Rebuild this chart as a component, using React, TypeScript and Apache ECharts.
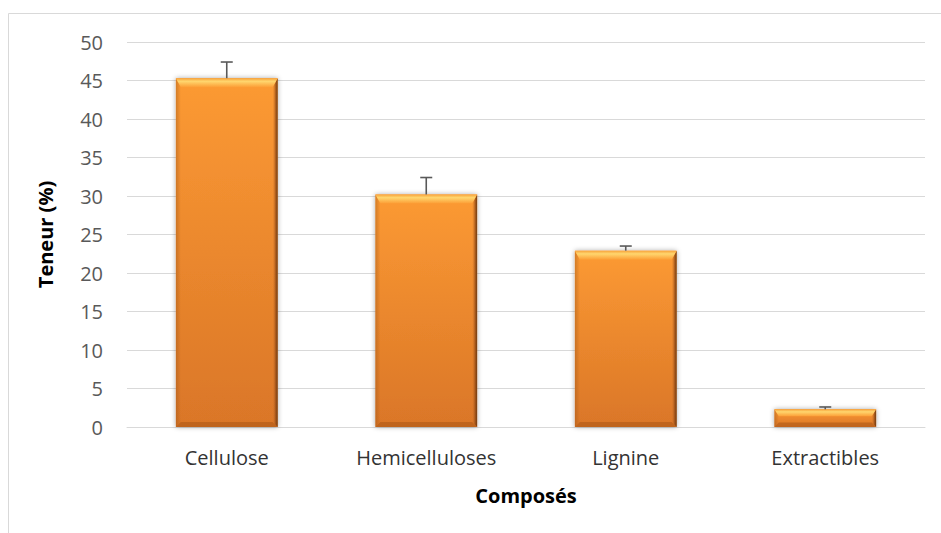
import React, { useEffect, useRef } from "react";
import * as echarts from "echarts";

const categories = ["Cellulose", "Hemicelluloses", "Lignine", "Extractibles"];
const values = [45.3, 30.2, 22.9, 2.3];
const errors = [2.1, 2.2, 0.6, 0.3];
const yMin = 0;
const yMax = 50;
const yStep = 5;
const xTitle = "Composés";
const yTitle = "Teneur (%)";

const FONT = "'Open Sans', sans-serif";

export default function App() {
  const ref = useRef<HTMLDivElement>(null);
  useEffect(() => {
    const chart = echarts.init(ref.current!, null, { renderer: "svg" });
    const LG = echarts.graphic.LinearGradient;

    const barRender = (_params: any, api: any) => {
      const i = api.value(0);
      const v = api.value(1);
      const base = api.coord([i, 0]);
      const top = api.coord([i, v]);
      const w = api.size([1, 0])[0] * 0.51;
      const l = base[0] - w / 2;
      const r = base[0] + w / 2;
      const t = top[1];
      const b = base[1];
      const h = b - t;
      const bv = Math.min(9, h * 0.4);
      const sv = Math.min(5, h * 0.25);
      return {
        type: "group",
        children: [
          {
            type: "rect",
            shape: { x: l, y: t, width: w, height: h },
            style: {
              fill: new LG(0, 0, 0, 1, [
                { offset: 0, color: "#FC9A33" },
                { offset: 1, color: "#DA7628" },
              ]),
              shadowBlur: 5,
              shadowColor: "rgba(0,0,0,0.35)",
            },
          },
          {
            type: "polygon",
            shape: { points: [[l, t], [l + sv, t + bv], [l + sv, b - sv], [l, b]] },
            style: {
              fill: new LG(0, 0, 1, 0, [
                { offset: 0, color: "rgba(150,80,20,0.4)" },
                { offset: 1, color: "rgba(150,80,20,0)" },
              ]),
            },
          },
          {
            type: "polygon",
            shape: { points: [[r, t], [r, b], [r - sv, b - sv], [r - sv, t + bv]] },
            style: {
              fill: new LG(1, 0, 0, 0, [
                { offset: 0, color: "#6E3A10" },
                { offset: 0.4, color: "rgba(140,70,20,0.7)" },
                { offset: 1, color: "rgba(200,110,40,0)" },
              ]),
            },
          },
          {
            type: "polygon",
            shape: { points: [[l, b], [r, b], [r - sv, b - sv], [l + sv, b - sv]] },
            style: { fill: "rgba(170,85,20,0.55)" },
          },
          {
            type: "polygon",
            shape: { points: [[l, t], [r, t], [r - sv, t + bv], [l + sv, t + bv]] },
            style: {
              fill: new LG(0, 0, 0, 1, [
                { offset: 0, color: "#F7A23A" },
                { offset: 0.35, color: "#FFD66E" },
                { offset: 1, color: "#FC9E36" },
              ]),
            },
          },
        ],
      };
    };

    const errRender = (_params: any, api: any) => {
      const i = api.value(0);
      const v = api.value(1);
      const e = api.value(2);
      const p0 = api.coord([i, v]);
      const p1 = api.coord([i, v + e]);
      const st = { stroke: "#595959", lineWidth: 1.6 };
      return {
        type: "group",
        children: [
          { type: "line", shape: { x1: p0[0], y1: p0[1], x2: p1[0], y2: p1[1] }, style: st },
          { type: "line", shape: { x1: p1[0] - 6, y1: p1[1], x2: p1[0] + 6, y2: p1[1] }, style: st },
        ],
      };
    };

    chart.setOption({
      animation: false,
      backgroundColor: "#ffffff",
      textStyle: { fontFamily: FONT },
      graphic: [
        {
          type: "rect",
          silent: true,
          z: -10,
          shape: { x: 8.5, y: 13.5, width: 940, height: 530 },
          style: { fill: "none", stroke: "#d9d9d9", lineWidth: 1 },
        },
      ],
      grid: { left: 127, right: 16, top: 42, bottom: 106, containLabel: false },
      xAxis: {
        type: "category",
        data: categories,
        axisTick: { show: false },
        axisLine: { lineStyle: { color: "#d9d9d9", width: 1 } },
        axisLabel: { fontSize: 20, color: "#333333", margin: 20, fontFamily: FONT },
        name: xTitle,
        nameLocation: "middle",
        nameGap: 58,
        nameTextStyle: { fontSize: 20, fontWeight: "bold", color: "#000000", fontFamily: FONT },
      },
      yAxis: {
        type: "value",
        min: yMin,
        max: yMax,
        interval: yStep,
        axisLine: { show: false },
        axisTick: { show: false },
        splitLine: { lineStyle: { color: "#d9d9d9", width: 1 } },
        axisLabel: { fontSize: 20, color: "#595959", margin: 24, fontFamily: FONT },
        name: yTitle,
        nameLocation: "middle",
        nameRotate: 90,
        nameGap: 72,
        nameTextStyle: { fontSize: 20, fontWeight: "bold", color: "#000000", fontFamily: FONT },
      },
      series: [
        {
          type: "custom",
          renderItem: barRender,
          data: values.map((v, i) => [i, v]),
          encode: { x: 0, y: 1 },
          z: 2,
        },
        {
          type: "custom",
          renderItem: errRender,
          data: values.map((v, i) => [i, v, errors[i]]),
          encode: { x: 0, y: 1 },
          z: 3,
        },
      ],
    });
    return () => chart.dispose();
  }, []);
  return (
    <div
      ref={ref}
      style={{ position: "absolute", left: 0, top: 0, width: 941, height: 533 }}
    />
  );
}
